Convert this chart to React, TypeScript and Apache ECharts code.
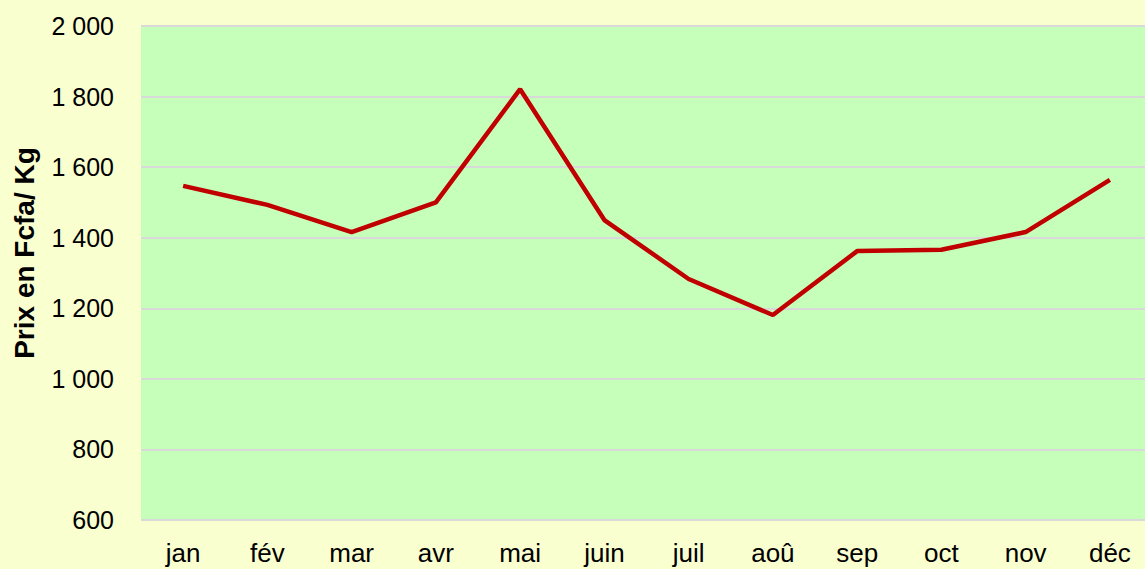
import React, { useEffect, useRef } from "react";
import * as echarts from "echarts";

const months = ["jan", "fév", "mar", "avr", "mai", "juin", "juil", "aoû", "sep", "oct", "nov", "déc"];
const prices = [1547, 1493, 1416, 1500, 1821, 1450, 1283, 1181, 1362, 1366, 1416, 1564];
const yMin = 600;
const yMax = 2000;
const yStep = 200;
const yAxisTitle = "Prix en Fcfa/ Kg";

export default function App() {
  const ref = useRef<HTMLDivElement>(null);
  useEffect(() => {
    if (!ref.current) return;
    const chart = echarts.init(ref.current, null, { renderer: "svg" });
    chart.setOption({
      animation: false,
      backgroundColor: "#FAFFD0",
      textStyle: { fontFamily: "Liberation Sans, Arial, sans-serif" },
      grid: {
        left: 141,
        top: 26,
        width: 1011,
        height: 494,
        outerBoundsMode: "none",
        containLabel: false,
        show: true,
        backgroundColor: "#C6FFBA",
        borderWidth: 0,
      },
      graphic: [
        {
          type: "text",
          x: 24,
          y: 253,
          rotation: Math.PI / 2,
          style: {
            text: yAxisTitle,
            fill: "#000",
            font: "bold 28px 'Liberation Sans', Arial, sans-serif",
            textAlign: "center",
            textVerticalAlign: "middle",
          },
        },
      ],
      xAxis: {
        type: "category",
        data: months,
        boundaryGap: true,
        axisLine: { show: false },
        axisTick: { show: false },
        axisLabel: { color: "#000", fontSize: 26, margin: 20 },
      },
      yAxis: {
        type: "value",
        min: yMin,
        max: yMax,
        interval: yStep,
        axisLine: { show: false },
        axisTick: { show: false },
        splitLine: { lineStyle: { color: "#D9D9D9", width: 2 } },
        axisLabel: {
          color: "#000",
          fontSize: 25,
          margin: 27,
          formatter: (v: number) => {
            const s = String(v);
            return s.length > 3 ? s.slice(0, s.length - 3) + " " + s.slice(-3) : s;
          },
        },
      },
      series: [
        {
          type: "line",
          data: prices,
          symbol: "none",
          lineStyle: { color: "#C00000", width: 4.5 },
        },
      ],
    });
    return () => chart.dispose();
  }, []);
  return (
    <div
      ref={ref}
      style={{ position: "fixed", left: 0, top: 0, width: 1145, height: 569 }}
    />
  );
}
